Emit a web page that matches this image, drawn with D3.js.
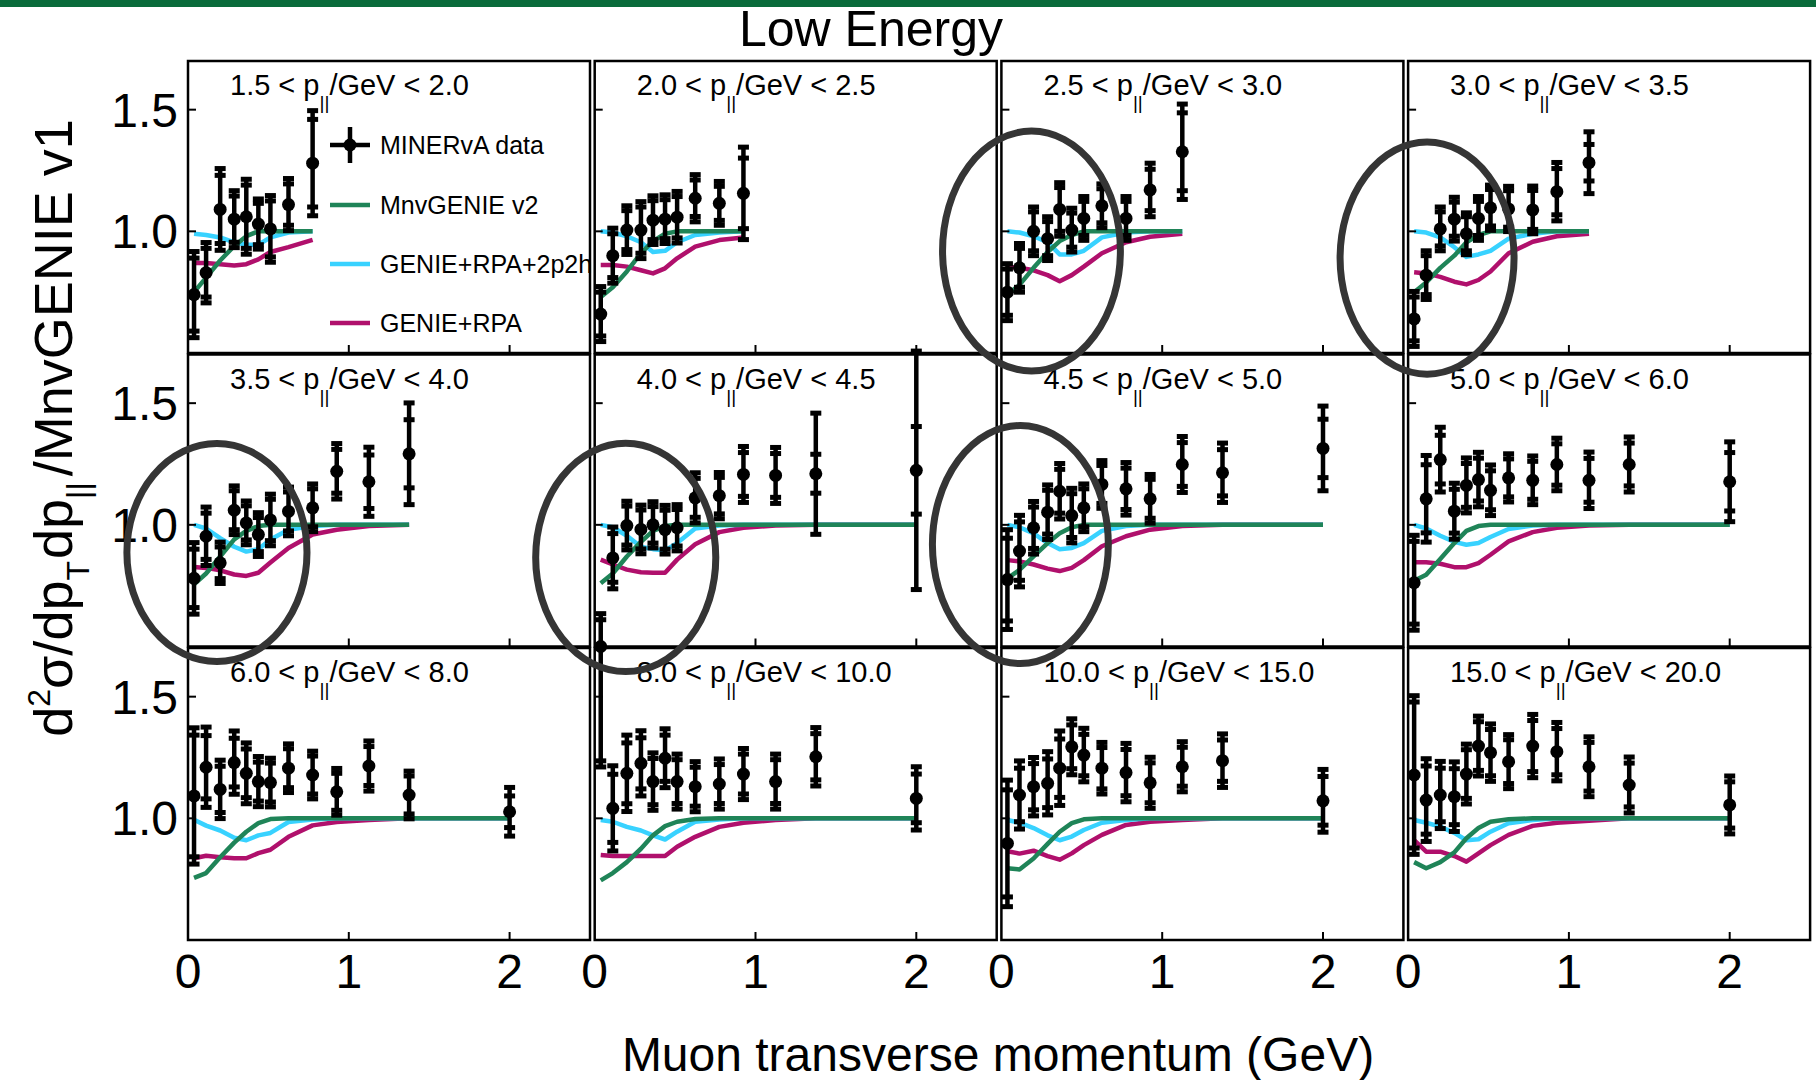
<!DOCTYPE html>
<html>
<head>
<meta charset="utf-8">
<script src="https://cdn.jsdelivr.net/npm/d3@7"></script>
<style>
  body { margin: 0; background: #fff; }
  text { font-family: "Liberation Sans", Arial, sans-serif; }
</style>
</head>
<body>
<div id="chart"></div>
<script>
// p|| bins, one panel each (GeV)
const binLabels = [
    ["1.5", "2.0"], ["2.0", "2.5"], ["2.5", "3.0"], ["3.0", "3.5"],
    ["3.5", "4.0"], ["4.0", "4.5"], ["4.5", "5.0"], ["5.0", "6.0"],
    ["6.0", "8.0"], ["8.0", "10.0"], ["10.0", "15.0"], ["15.0", "20.0"]
];

// muon pT bin centres (GeV)
const ptCenters = [0.0375, 0.1125, 0.2, 0.2875, 0.3625, 0.4375, 0.5125, 0.625, 0.775, 0.925, 1.125, 1.375, 2.0];

// MINERvA data / MnvGENIE v1
const dataRatio = [
    [0.74, 0.83, 1.09, 1.05, 1.06, 1.03, 1.01, 1.11, 1.28],
    [0.66, 0.90, 1.005, 1.005, 1.046, 1.05, 1.058, 1.136, 1.115, 1.156],
    [0.75, 0.85, 1.0, 0.97, 1.09, 1.005, 1.053, 1.105, 1.053, 1.17, 1.327],
    [0.64, 0.82, 1.01, 1.05, 0.99, 1.053, 1.097, 1.092, 1.088, 1.163, 1.282],
    [0.78, 0.953, 0.844, 1.06, 1.008, 0.96, 1.02, 1.055, 1.07, 1.22, 1.177, 1.292],
    [0.32, 0.864, 0.997, 0.981, 1.0, 0.98, 0.988, 1.111, 1.12, 1.207, 1.203, 1.21, 1.224],
    [0.775, 0.892, 0.988, 1.052, 1.138, 1.038, 1.07, 1.166, 1.148, 1.107, 1.248, 1.214, 1.314],
    [0.762, 1.107, 1.268, 1.056, 1.162, 1.186, 1.142, 1.193, 1.183, 1.248, 1.183, 1.248, 1.177],
    [1.092, 1.21, 1.119, 1.229, 1.185, 1.151, 1.147, 1.206, 1.178, 1.109, 1.215, 1.096, 1.027],
    [null, 1.041, 1.185, 1.226, 1.151, 1.247, 1.151, 1.13, 1.141, 1.182, 1.151, 1.253, 1.082],
    [0.897, 1.096, 1.13, 1.144, 1.206, 1.294, 1.26, 1.206, 1.188, 1.146, 1.212, 1.237, 1.072],
    [1.178, 1.075, 1.096, 1.089, 1.182, 1.297, 1.27, 1.233, 1.297, 1.274, 1.212, 1.137, 1.055]
];

// total uncertainty (outer caps)
const totalErr = [
    [0.177, 0.124, 0.168, 0.117, 0.154, 0.103, 0.137, 0.107, 0.216],
    [0.113, 0.113, 0.10, 0.117, 0.10, 0.10, 0.106, 0.097, 0.09, 0.19],
    [0.117, 0.10, 0.10, 0.09, 0.11, 0.09, 0.09, 0.09, 0.09, 0.11, 0.196],
    [0.113, 0.10, 0.09, 0.09, 0.086, 0.09, 0.093, 0.093, 0.098, 0.12, 0.127],
    [0.147, 0.12, 0.085, 0.10, 0.09, 0.09, 0.106, 0.10, 0.098, 0.114, 0.142, 0.209],
    [0.315, 0.127, 0.10, 0.10, 0.095, 0.10, 0.095, 0.103, 0.095, 0.115, 0.115, 0.249, 0.49],
    [0.205, 0.147, 0.108, 0.112, 0.114, 0.112, 0.098, 0.098, 0.108, 0.10, 0.115, 0.122, 0.174],
    [0.195, 0.178, 0.133, 0.115, 0.113, 0.112, 0.104, 0.099, 0.10, 0.108, 0.116, 0.113, 0.164],
    [0.28, 0.165, 0.12, 0.13, 0.125, 0.103, 0.10, 0.10, 0.098, 0.096, 0.103, 0.098, 0.10],
    [null, 0.175, 0.157, 0.134, 0.118, 0.121, 0.113, 0.103, 0.103, 0.105, 0.113, 0.12, 0.13],
    [0.26, 0.14, 0.12, 0.13, 0.153, 0.115, 0.11, 0.106, 0.12, 0.105, 0.103, 0.11, 0.129],
    [0.326, 0.17, 0.138, 0.143, 0.123, 0.123, 0.118, 0.111, 0.13, 0.12, 0.123, 0.115, 0.119]
];

// statistical uncertainty (inner caps)
const statErr = [
    [0.15, 0.10, 0.14, 0.095, 0.13, 0.085, 0.115, 0.085, 0.18],
    [0.09, 0.09, 0.08, 0.095, 0.08, 0.08, 0.085, 0.075, 0.07, 0.145],
    [0.095, 0.08, 0.08, 0.07, 0.09, 0.07, 0.07, 0.07, 0.07, 0.085, 0.16],
    [0.09, 0.08, 0.07, 0.07, 0.07, 0.07, 0.075, 0.075, 0.08, 0.095, 0.075],
    [0.12, 0.095, 0.065, 0.08, 0.07, 0.07, 0.085, 0.08, 0.078, 0.09, 0.11, 0.14],
    [0.29, 0.10, 0.08, 0.08, 0.075, 0.08, 0.075, 0.08, 0.075, 0.09, 0.09, 0.08, 0.18],
    [0.17, 0.12, 0.085, 0.09, 0.09, 0.09, 0.078, 0.078, 0.085, 0.08, 0.09, 0.095, 0.12],
    [0.17, 0.14, 0.10, 0.09, 0.09, 0.088, 0.08, 0.078, 0.078, 0.085, 0.09, 0.088, 0.12],
    [0.25, 0.13, 0.095, 0.10, 0.10, 0.08, 0.08, 0.08, 0.078, 0.076, 0.08, 0.078, 0.065],
    [null, 0.14, 0.125, 0.105, 0.095, 0.095, 0.09, 0.08, 0.08, 0.082, 0.09, 0.095, 0.10],
    [0.22, 0.11, 0.095, 0.10, 0.12, 0.09, 0.085, 0.085, 0.095, 0.082, 0.08, 0.085, 0.10],
    [0.30, 0.14, 0.11, 0.115, 0.10, 0.10, 0.095, 0.09, 0.105, 0.095, 0.10, 0.09, 0.095]
];

const mnvGenieV2 = [
    [0.75, 0.81, 0.88, 0.94, 0.98, 1.0, 1.0, 1.0, 1.0],
    [0.73, 0.77, 0.835, 0.91, 0.96, 0.99, 1.0, 1.0, 1.0, 1.0],
    [0.74, 0.78, 0.85, 0.915, 0.96, 0.985, 1.0, 1.0, 1.0, 1.0, 1.0],
    [0.75, 0.79, 0.85, 0.90, 0.955, 0.985, 1.0, 1.0, 1.0, 1.0, 1.0],
    [0.755, 0.80, 0.87, 0.94, 0.975, 0.995, 1.0, 1.0, 1.0, 1.0, 1.0, 1.0],
    [0.76, 0.80, 0.87, 0.93, 0.975, 0.995, 1.0, 1.0, 1.0, 1.0, 1.0, 1.0, 1.0],
    [0.78, 0.815, 0.87, 0.925, 0.965, 0.99, 1.0, 1.0, 1.0, 1.0, 1.0, 1.0, 1.0],
    [0.77, 0.795, 0.86, 0.925, 0.975, 0.995, 1.0, 1.0, 1.0, 1.0, 1.0, 1.0, 1.0],
    [0.755, 0.775, 0.84, 0.90, 0.945, 0.98, 0.997, 1.0, 1.0, 1.0, 1.0, 1.0, 1.0],
    [0.745, 0.775, 0.82, 0.875, 0.93, 0.968, 0.986, 0.997, 1.0, 1.0, 1.0, 1.0, 1.0],
    [0.795, 0.79, 0.835, 0.895, 0.945, 0.98, 0.996, 1.0, 1.0, 1.0, 1.0, 1.0, 1.0],
    [0.82, 0.795, 0.82, 0.86, 0.918, 0.96, 0.986, 0.996, 1.0, 1.0, 1.0, 1.0, 1.0]
];

const genieRpa2p2h = [
    [0.99, 0.985, 0.975, 0.955, 0.945, 0.945, 0.975, 0.995, 1.0],
    [1.0, 0.995, 0.98, 0.955, 0.915, 0.92, 0.955, 0.985, 0.995, 1.0],
    [1.0, 0.995, 0.98, 0.955, 0.905, 0.905, 0.92, 0.975, 0.995, 1.0, 1.0],
    [1.0, 0.995, 0.975, 0.935, 0.895, 0.905, 0.92, 0.97, 0.99, 1.0, 1.0],
    [1.0, 0.985, 0.945, 0.91, 0.89, 0.90, 0.94, 0.98, 0.995, 1.0, 1.0, 1.0],
    [1.0, 0.99, 0.955, 0.91, 0.90, 0.895, 0.925, 0.985, 0.997, 1.0, 1.0, 1.0, 1.0],
    [1.0, 0.99, 0.965, 0.925, 0.90, 0.905, 0.925, 0.975, 0.995, 1.0, 1.0, 1.0, 1.0],
    [1.0, 0.985, 0.955, 0.93, 0.918, 0.925, 0.95, 0.983, 0.997, 1.0, 1.0, 1.0, 1.0],
    [0.994, 0.97, 0.95, 0.92, 0.91, 0.93, 0.94, 0.985, 0.995, 1.0, 1.0, 1.0, 1.0],
    [0.993, 0.986, 0.965, 0.95, 0.93, 0.913, 0.945, 0.986, 0.995, 1.0, 1.0, 1.0, 1.0],
    [0.993, 0.982, 0.96, 0.93, 0.91, 0.925, 0.952, 0.982, 0.993, 1.0, 1.0, 1.0, 1.0],
    [0.993, 0.982, 0.966, 0.94, 0.91, 0.914, 0.945, 0.98, 0.993, 1.0, 1.0, 1.0, 1.0]
];

const genieRpa = [
    [0.87, 0.87, 0.865, 0.86, 0.865, 0.885, 0.915, 0.935, 0.965],
    [0.862, 0.862, 0.855, 0.84, 0.827, 0.848, 0.889, 0.937, 0.964, 0.975],
    [0.855, 0.85, 0.84, 0.82, 0.795, 0.82, 0.855, 0.91, 0.955, 0.978, 0.99],
    [0.832, 0.827, 0.813, 0.793, 0.782, 0.80, 0.835, 0.91, 0.957, 0.98, 0.99],
    [0.827, 0.823, 0.813, 0.796, 0.79, 0.803, 0.845, 0.905, 0.96, 0.98, 0.995, 1.0],
    [0.857, 0.837, 0.816, 0.805, 0.803, 0.803, 0.857, 0.92, 0.97, 0.988, 0.997, 1.0, 1.0],
    [0.855, 0.85, 0.837, 0.82, 0.81, 0.823, 0.855, 0.912, 0.953, 0.98, 0.995, 1.0, 1.0],
    [0.846, 0.846, 0.84, 0.826, 0.826, 0.843, 0.877, 0.932, 0.97, 0.988, 0.997, 1.0, 1.0],
    [0.836, 0.846, 0.84, 0.836, 0.836, 0.857, 0.871, 0.924, 0.971, 0.985, 0.993, 1.0, 1.0],
    [0.849, 0.845, 0.845, 0.845, 0.845, 0.845, 0.883, 0.924, 0.965, 0.982, 0.993, 1.0, 1.0],
    [0.865, 0.855, 0.867, 0.845, 0.83, 0.856, 0.89, 0.932, 0.973, 0.986, 0.993, 1.0, 1.0],
    [0.91, 0.863, 0.863, 0.845, 0.822, 0.856, 0.89, 0.932, 0.969, 0.982, 0.99, 1.0, 1.0]
];

// hand-drawn rings on the slide: panel, centre (pT, ratio), half-widths (pT, ratio)
const rings = [
    { panel: 2, pt: 0.187, ratio: 0.919, dPt: 0.553, dRatio: 0.493 },
    { panel: 3, pt: 0.118, ratio: 0.890, dPt: 0.541, dRatio: 0.477 },
    { panel: 4, pt: 0.180, ratio: 0.886, dPt: 0.560, dRatio: 0.448 },
    { panel: 5, pt: 0.193, ratio: 0.866, dPt: 0.560, dRatio: 0.469 },
    { panel: 6, pt: 0.118, ratio: 0.919, dPt: 0.547, dRatio: 0.489 }
];

const models = [
    { name: "GENIE+RPA", color: "#b0106c", values: genieRpa },
    { name: "GENIE+RPA+2p2h", color: "#38d2ff", values: genieRpa2p2h },
    { name: "MnvGENIE v2", color: "#1f8458", values: mnvGenieV2 }
];

const W = 1816, H = 1080;
const panelW = 402, panelH = 292;
const panelX0 = 188, panelY0 = 61, stepX = 406.7, stepY = 293.5;

const svg = d3.select("#chart").append("svg")
    .attr("width", W)
    .attr("height", H)
    .style("background", "#fff");

svg.append("rect")
    .attr("x", 0).attr("y", 0)
    .attr("width", W).attr("height", 7)
    .attr("fill", "#0a6b3b");

svg.append("text")
    .attr("x", 871).attr("y", 46)
    .attr("text-anchor", "middle")
    .attr("font-size", 50)
    .text("Low Energy");

const x = d3.scaleLinear().domain([0, 2.5]).range([0, panelW]);
const y = d3.scaleLinear().domain([0.5, 1.7]).range([panelH, 0]);

const line = d3.line()
    .x(d => x(d[0]))
    .y(d => y(d[1]));

function panelOrigin(i) {
    return [panelX0 + (i % 4) * stepX, panelY0 + Math.floor(i / 4) * stepY];
}

// white pads first, so out-of-range error bars may run across them
binLabels.forEach(function (bin, i) {
    let [ox, oy] = panelOrigin(i);
    svg.append("rect")
        .attr("x", ox).attr("y", oy)
        .attr("width", panelW).attr("height", panelH)
        .attr("fill", "#fff");
});

binLabels.forEach(function (bin, i) {
    let col = i % 4, row = Math.floor(i / 4);
    let [ox, oy] = panelOrigin(i);
    let g = svg.append("g")
        .attr("transform", `translate(${ox}, ${oy})`);

    // models
    models.forEach(function (m) {
        let pts = m.values[i].map((v, k) => [ptCenters[k], v]);
        g.append("path")
            .attr("d", line(pts))
            .attr("fill", "none")
            .attr("stroke", m.color)
            .attr("stroke-width", 4.5)
            .attr("stroke-linejoin", "round");
    });

    // data points with stat + total error bars
    dataRatio[i].forEach(function (v, k) {
        if (v == null) return;
        let cx = x(ptCenters[k]);
        let tot = totalErr[i][k], st = statErr[i][k];
        g.append("line")
            .attr("x1", cx).attr("x2", cx)
            .attr("y1", y(v + tot)).attr("y2", y(v - tot))
            .attr("stroke", "#000").attr("stroke-width", 4.5);
        [v + tot, v - tot, v + st, v - st].forEach(function (e) {
            g.append("rect")
                .attr("x", cx - 5.5).attr("y", y(e) - 2.5)
                .attr("width", 11).attr("height", 5)
                .attr("fill", "#000");
        });
        // markers outside the frame sit on its edge
        let shown = Math.max(y.domain()[0], Math.min(y.domain()[1], v));
        g.append("circle")
            .attr("cx", cx).attr("cy", y(shown))
            .attr("r", 6.5).attr("fill", "#000");
    });

    g.append("rect")
        .attr("width", panelW).attr("height", panelH)
        .attr("fill", "none")
        .attr("stroke", "#000")
        .attr("stroke-width", 2.5);

    // inward ticks
    [1, 2].forEach(function (t) {
        g.append("line")
            .attr("x1", x(t)).attr("x2", x(t))
            .attr("y1", panelH).attr("y2", panelH - 8)
            .attr("stroke", "#000").attr("stroke-width", 2);
    });
    [1.0, 1.5].forEach(function (t) {
        g.append("line")
            .attr("x1", 0).attr("x2", 8)
            .attr("y1", y(t)).attr("y2", y(t))
            .attr("stroke", "#000").attr("stroke-width", 2);
    });

    let label = g.append("text")
        .attr("x", 42).attr("y", 34)
        .attr("font-size", 29);
    label.append("tspan").text(`${bin[0]} < p`);
    label.append("tspan").attr("font-size", 19).attr("dy", 14).text("||");
    label.append("tspan").attr("dy", -14).text(`/GeV < ${bin[1]}`);

    if (col == 0) {
        [1.0, 1.5].forEach(function (t) {
            g.append("text")
                .attr("x", -10).attr("y", y(t) + 17)
                .attr("text-anchor", "end")
                .attr("font-size", 48)
                .text(d3.format(".1f")(t));
        });
    }
    if (row == 2) {
        [0, 1, 2].forEach(function (t) {
            g.append("text")
                .attr("x", x(t)).attr("y", panelH + 48)
                .attr("text-anchor", "middle")
                .attr("font-size", 48)
                .text(t);
        });
    }

    if (i == 0) {
        let lg = g.append("g").attr("transform", "translate(142, 0)");
        lg.append("line").attr("x1", 0).attr("x2", 40).attr("y1", 84).attr("y2", 84)
            .attr("stroke", "#000").attr("stroke-width", 4.5);
        lg.append("line").attr("x1", 20).attr("x2", 20).attr("y1", 66).attr("y2", 102)
            .attr("stroke", "#000").attr("stroke-width", 4.5);
        lg.append("circle").attr("cx", 20).attr("cy", 84).attr("r", 6.5).attr("fill", "#000");
        lg.append("text").attr("x", 50).attr("y", 93).attr("font-size", 25).text("MINERvA data");
        models.slice().reverse().forEach(function (m, k) {
            let ly = 144 + k * 59;
            lg.append("line").attr("x1", 0).attr("x2", 40).attr("y1", ly).attr("y2", ly)
                .attr("stroke", m.color).attr("stroke-width", 4.5);
            lg.append("text").attr("x", 50).attr("y", ly + 9).attr("font-size", 25).text(m.name);
        });
    }
});

// axis titles
let yTitle = svg.append("text")
    .attr("transform", "translate(72, 428) rotate(-90)")
    .attr("text-anchor", "middle")
    .attr("font-size", 54);
yTitle.append("tspan").text("d");
yTitle.append("tspan").attr("font-size", 32).attr("dy", -22).text("2");
yTitle.append("tspan").attr("dy", 22).text("σ/dp");
yTitle.append("tspan").attr("font-size", 32).attr("dy", 17).text("T");
yTitle.append("tspan").attr("dy", -17).attr("dx", 2).text("dp");
yTitle.append("tspan").attr("font-size", 32).attr("dy", 17).text("||");
yTitle.append("tspan").attr("dy", -17).attr("dx", 6).text("/MnvGENIE v1");

svg.append("text")
    .attr("x", 998).attr("y", 1071)
    .attr("text-anchor", "middle")
    .attr("font-size", 48)
    .text("Muon transverse momentum (GeV)");

// rings on top of everything
rings.forEach(function (r) {
    let [ox, oy] = panelOrigin(r.panel);
    svg.append("ellipse")
        .attr("cx", ox + x(r.pt))
        .attr("cy", oy + y(r.ratio))
        .attr("rx", x(r.dPt) - x(0))
        .attr("ry", y(0) - y(r.dRatio))
        .attr("fill", "none")
        .attr("stroke", "#353535")
        .attr("stroke-width", 7);
});
</script>
</body>
</html>
